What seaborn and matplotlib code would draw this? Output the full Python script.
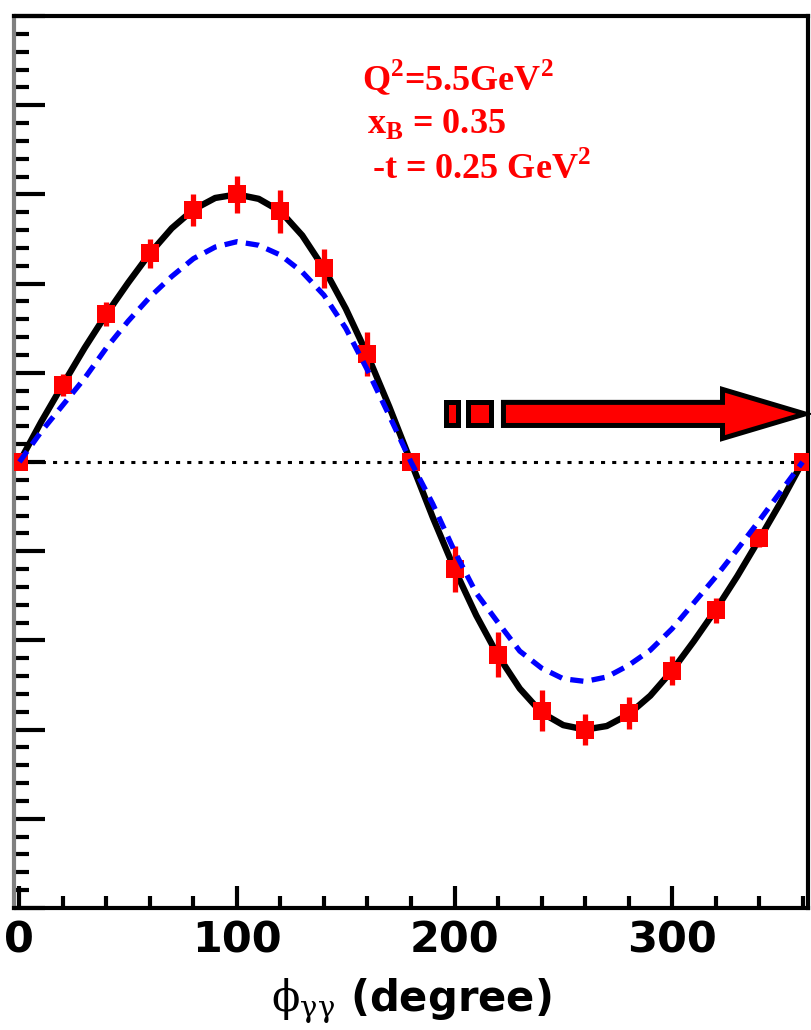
import numpy as np
import pandas as pd
import seaborn as sns
import matplotlib.pyplot as plt
from matplotlib.patches import Rectangle, FancyArrow
from matplotlib.ticker import MultipleLocator

# measured points (asymmetry vs phi_gg)
phi_pts = [0, 20, 40, 60, 80, 100, 120, 140, 160, 180,
           200, 220, 240, 260, 280, 300, 320, 340, 360]
asym_pts = [0.0, 0.0865, 0.166, 0.234, 0.283, 0.300, 0.281, 0.217, 0.121, 0.0,
            -0.120, -0.216, -0.279, -0.300, -0.281, -0.234, -0.166, -0.085, 0.0]
asym_err = [0.0, 0.012, 0.013, 0.016, 0.018, 0.021, 0.024, 0.022, 0.025, 0.0,
            0.026, 0.025, 0.023, 0.017, 0.018, 0.016, 0.014, 0.010, 0.0]

# curves read every 10 degrees
curve_phi = [0, 10, 20, 30, 40, 50, 60, 70, 80, 90, 100, 110, 120, 130, 140, 150, 160, 170, 180,
             190, 200, 210, 220, 230, 240, 250, 260, 270, 280, 290, 300, 310, 320, 330, 340, 350, 360]
fit_black = [0.0, 0.045, 0.087, 0.128, 0.166, 0.201, 0.234, 0.262, 0.283, 0.296, 0.300, 0.295,
             0.281, 0.254, 0.217, 0.172, 0.120, 0.062, 0.0,
             -0.062, -0.120, -0.172, -0.217, -0.254, -0.281, -0.295, -0.300, -0.296, -0.283,
             -0.262, -0.234, -0.201, -0.166, -0.128, -0.087, -0.045, 0.0]
model_blue = [0.0, 0.034, 0.064, 0.094, 0.128, 0.158, 0.185, 0.208, 0.228, 0.241, 0.247, 0.243,
              0.232, 0.213, 0.187, 0.150, 0.103, 0.052, 0.0,
              -0.047, -0.100, -0.147, -0.180, -0.212, -0.231, -0.243, -0.246, -0.241, -0.228,
              -0.211, -0.187, -0.158, -0.129, -0.098, -0.066, -0.033, 0.0]

xtick_vals = [0, 100, 200, 300]
xtick_labels = ["0", "100", "200", "300"]
kin_lines = [r"Q$^{\mathbf{2}}$=5.5GeV$^{\mathbf{2}}$",
             r"x$_{\mathbf{B}}$ = 0.35",
             r"-t = 0.25 GeV$^{\mathbf{2}}$"]

sns.set_theme(style="white")
plt.rcParams["font.family"] = ["DejaVu Sans"]
plt.rcParams["mathtext.fontset"] = "custom"
plt.rcParams["mathtext.rm"] = "Liberation Serif:bold"
plt.rcParams["mathtext.bf"] = "Liberation Serif:bold"

fig = plt.figure(figsize=(8.11, 10.30), dpi=100)
ax = fig.add_axes([0.01726, 0.11845, 0.97904, 0.86602])

# zero line
ax.plot([0, 360], [0, 0], color="black", lw=2.2, linestyle=(0, (1.33, 2.33)), zorder=1)

sns.lineplot(x=curve_phi, y=fit_black, ax=ax, color="black", lw=4.6, zorder=2)
ax.errorbar(phi_pts, asym_pts, yerr=asym_err, fmt="s", color="red", ms=13.5,
            markeredgewidth=0, elinewidth=3.8, capsize=0, zorder=3)
sns.lineplot(x=curve_phi, y=model_blue, ax=ax, color="blue", lw=3.8,
             linestyle=(0, (2.5, 1.6)), zorder=4)

# kinematics text
for i, (tx, ty) in enumerate([(157.5, 0.417), (159.8, 0.369), (162.0, 0.318)]):
    ax.text(tx, ty, kin_lines[i], color="red", fontsize=26, fontfamily="Liberation Serif",
            fontweight="bold", va="baseline", ha="left")

# arrow decoration
ax.add_patch(Rectangle((195.9, 0.041), 5.5, 0.0259, facecolor="red", edgecolor="black",
                       lw=3.6, clip_on=False, zorder=5))
ax.add_patch(Rectangle((206.4, 0.041), 10.6, 0.0259, facecolor="red", edgecolor="black",
                       lw=3.6, clip_on=False, zorder=5))
ax.add_patch(FancyArrow(222.5, 0.0539, 138.6, 0, width=0.0259, head_width=0.055,
                        head_length=37.9, length_includes_head=True, facecolor="red",
                        edgecolor="black", lw=3.6, clip_on=False, zorder=5))

ax.set_xlim(-2.5, 362.5)
ax.set_ylim(-0.5, 0.5)
ax.set_xticks(xtick_vals, labels=xtick_labels, fontsize=31, fontweight="bold")
ax.xaxis.set_minor_locator(MultipleLocator(20))
ax.yaxis.set_major_locator(MultipleLocator(0.1))
ax.yaxis.set_minor_locator(MultipleLocator(0.02))

ax.tick_params(axis="x", which="major", direction="in", length=16, width=3, pad=8,
               bottom=True, top=False, color="black", labelcolor="black")
ax.tick_params(axis="x", which="minor", direction="in", length=9, width=3,
               bottom=True, top=False, color="black")
ax.tick_params(axis="y", which="major", direction="in", length=22, width=3,
               left=True, right=False, labelleft=False, color="black")
ax.tick_params(axis="y", which="minor", direction="in", length=11, width=3,
               left=True, right=False, color="black")

for name, sp in ax.spines.items():
    sp.set_linewidth(3)
    sp.set_color("black")
ax.spines["left"].set_color("#808080")

ax.set_xlabel(r"$\mathrm{\phi}_{\mathrm{\gamma\gamma}}$ (degree)", fontsize=30,
              fontweight="bold", color="black", labelpad=11, math_fontfamily="dejavuserif")
ax.set_ylabel("")

fig.savefig("out.png", dpi=100)
